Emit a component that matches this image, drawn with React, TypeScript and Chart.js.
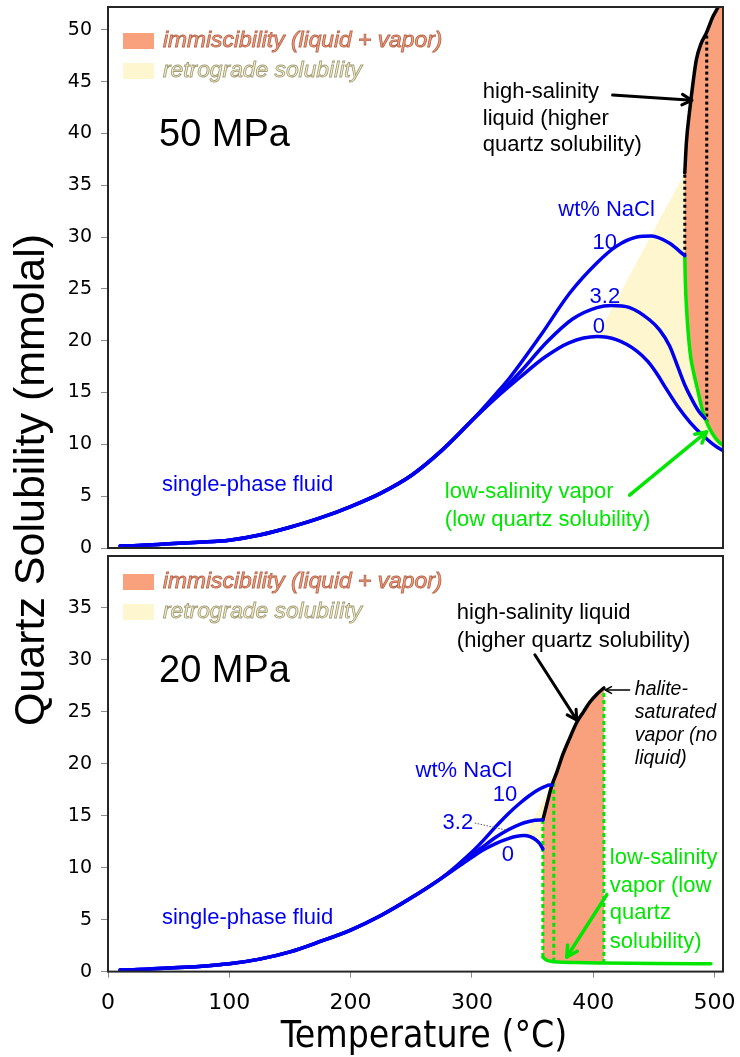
import React, { useEffect, useRef } from 'react';
import { Chart, registerables } from 'chart.js';

Chart.register(...registerables);

// ---------------- 50 MPa panel ----------------
// low-temperature branch shared by all salinities
const t50Shared = [10, 25, 50, 75, 100, 125, 150, 175, 200, 225, 250, 275, 300];
const s50Shared = [0.2, 0.25, 0.4, 0.55, 0.75, 1.25, 2.0, 2.9, 4.0, 5.3, 7.0, 9.4, 12.3];
// 0 wt% NaCl
const t50Nacl0 = [320, 340, 360, 380, 403, 419, 436, 445, 452, 460, 470, 480, 490, 500, 507];
const s50Nacl0 = [14.5, 16.5, 18.4, 19.8, 20.4, 20.1, 19.0, 18.0, 16.9, 15.4, 13.6, 12.1, 10.9, 9.9, 9.4];
// 3.2 wt% NaCl
const t50Nacl3 = [320, 340, 362, 383, 403, 415, 430, 446.6, 455, 463, 470, 476, 482, 487, 492];
const s50Nacl3 = [14.6, 17.0, 19.9, 22.1, 23.2, 23.4, 23.2, 22.0, 21.0, 19.5, 17.4, 15.6, 14.2, 13.2, 12.5];
// 10 wt% NaCl
const t50Nacl10 = [320, 331, 356, 380.7, 403, 419, 436, 448, 463, 475.5];
const s50Nacl10 = [14.9, 16.4, 20.4, 24.6, 27.5, 29.1, 30.0, 30.1, 29.4, 28.2];
// high-salinity liquid branch
const t50Liquid = [475.5, 476.8, 479.6, 482.3, 485, 489, 493.3, 498.8, 503, 507];
const s50Liquid = [36.2, 39.1, 42.3, 44.9, 47.1, 48.7, 49.7, 51.3, 52.2, 53.2];
// low-salinity vapor branch
const t50Vapor = [475.5, 476, 477, 478.5, 480.5, 483, 486, 490, 494, 499, 503, 507];
const s50Vapor = [28.2, 25.5, 23.0, 20.5, 18.3, 16.8, 15.3, 13.3, 12.0, 10.9, 10.3, 9.9];
// dotted tie lines
const t50Tie = [475.5, 493.6];
const s50TieLow = [28.2, 12.1];
const s50TieHigh = [36.2, 49.6];

// ---------------- 20 MPa panel ----------------
const t20Shared = [10, 25, 50, 75, 100, 125, 150, 175, 200, 225, 250, 275];
const s20Shared = [0.15, 0.2, 0.35, 0.5, 0.75, 1.2, 1.9, 2.9, 4.0, 5.4, 7.1, 9.0];
const t20Nacl0 = [290, 300, 310, 320, 330, 336, 343, 348, 353, 356, 358.5];
const s20Nacl0 = [10.2, 11.0, 11.75, 12.35, 12.8, 13.0, 13.1, 12.98, 12.65, 12.3, 11.8];
const t20Nacl3 = [290, 300, 310, 320, 330, 340, 347, 352, 358.5];
const s20Nacl3 = [10.3, 11.2, 12.1, 12.95, 13.65, 14.2, 14.45, 14.57, 14.6];
const t20Nacl10 = [290, 300, 310, 320, 330, 340, 347, 354, 360, 364, 366];
const s20Nacl10 = [10.45, 11.5, 12.7, 14.0, 15.2, 16.25, 16.9, 17.45, 17.8, 17.95, 17.95];
const t20Liquid = [358.5, 362, 366, 370, 375, 380, 386.5, 392, 397, 403, 408.8];
const s20Liquid = [14.6, 16.2, 17.95, 19.2, 20.9, 22.3, 24.0, 25.0, 25.9, 26.7, 27.3];
const t20Vapor = [358.5, 361, 365, 372, 385, 408.8, 450, 497];
const s20Vapor = [1.4, 1.15, 1.0, 0.92, 0.87, 0.83, 0.79, 0.76];
const t20Tie = [358.5, 367.5, 408.8];
const s20TieLow = [1.4, 0.96, 0.83];
const s20TieHigh = [14.6, 18.4, 27.3];

// axis ranges and tick labels
const T_MAX = 507;
const tempTicks = [0, 100, 200, 300, 400, 500];
const S_MAX_50 = 52.2;
const S_MAX_20 = 40;
const solTicks50 = [0, 5, 10, 15, 20, 25, 30, 35, 40, 45, 50];
const solTicks20 = [0, 5, 10, 15, 20, 25, 30, 35];

const BLUE = '#0000ee';
const GREEN = '#00e600';
const BLACK = '#000000';
const SALMON = '#f9a07c';
const CREAM = '#fdf6cf';
const SANS = '"Liberation Sans", Arial, sans-serif';

type P = { x: number; y: number };
const pts = (t: number[], s: number[]): P[] => t.map((x, i) => ({ x, y: s[i] }));
const argMax = (a: number[]) => a.reduce((best, v, i) => (v > a[best] ? i : best), 0);

const curve = (data: P[], color: string, width = 3.5) => ({
  data,
  borderColor: color,
  borderWidth: width,
  pointRadius: 0,
  fill: false,
  cubicInterpolationMode: 'monotone',
  borderCapStyle: 'round',
  borderJoinStyle: 'round',
  order: 1,
});
const dotted = (t: number, lo: number, hi: number, color: string, dash: number[]) => ({
  data: [{ x: t, y: lo }, { x: t, y: hi }],
  borderColor: color,
  borderWidth: 3,
  borderDash: dash,
  pointRadius: 0,
  fill: false,
  tension: 0,
  order: 2,
});
const area = (data: P[], color: string) => ({
  data,
  borderWidth: 0,
  borderColor: 'rgba(0,0,0,0)',
  backgroundColor: color,
  fill: 'shape',
  pointRadius: 0,
  tension: 0,
  order: 3,
});

// ---- fill shapes built from the curves ----
const pk50 = argMax(s50Nacl0);
const retro50: P[] = [
  { x: t50Nacl0[pk50], y: s50Nacl0[pk50] },
  { x: t50Liquid[0], y: s50Liquid[0] },
  ...pts(t50Vapor, s50Vapor),
  ...pts(t50Nacl0, s50Nacl0).slice(pk50).reverse(),
];
const immis50: P[] = [...pts(t50Liquid, s50Liquid), ...pts(t50Vapor, s50Vapor).reverse()];

const pk20 = argMax(s20Nacl0);
const end10 = { x: t20Nacl10[t20Nacl10.length - 1], y: s20Nacl10[s20Nacl10.length - 1] };
const retro20: P[] = [
  { x: t20Nacl0[pk20], y: s20Nacl0[pk20] },
  end10,
  ...pts(t20Liquid, s20Liquid).filter((p) => p.x <= end10.x).reverse(),
  ...pts(t20Nacl0, s20Nacl0).slice(pk20).reverse(),
];
const liqEnd20 = t20Liquid[t20Liquid.length - 1];
const immis20: P[] = [
  ...pts(t20Liquid, s20Liquid),
  ...pts(t20Vapor, s20Vapor).filter((p) => p.x <= liqEnd20).reverse(),
];

// ---- annotation helpers ----
type Label = { T: number; S: number; text: string; color: string; font: string; align?: CanvasTextAlign };
type Arrow = { from: [number, number]; to: [number, number]; color: string; width: number; head: number };

function drawArrow(ctx: CanvasRenderingContext2D, x1: number, y1: number, x2: number, y2: number, color: string, width: number, head: number) {
  ctx.save();
  ctx.strokeStyle = color;
  ctx.lineWidth = width;
  ctx.lineCap = 'round';
  ctx.lineJoin = 'round';
  ctx.beginPath();
  ctx.moveTo(x1, y1);
  ctx.lineTo(x2, y2);
  ctx.stroke();
  const a = Math.atan2(y2 - y1, x2 - x1);
  ctx.beginPath();
  ctx.moveTo(x2 - head * Math.cos(a - 0.5), y2 - head * Math.sin(a - 0.5));
  ctx.lineTo(x2, y2);
  ctx.lineTo(x2 - head * Math.cos(a + 0.5), y2 - head * Math.sin(a + 0.5));
  ctx.stroke();
  ctx.restore();
}

function drawLegend(chart: any, dy: number, title: string, titleDy: number) {
  const { ctx, chartArea: a } = chart;
  const x0 = a.left;
  const y0 = a.top;
  ctx.save();
  ctx.textBaseline = 'middle';
  ctx.textAlign = 'left';
  const rows = [
    { fill: SALMON, text: 'immiscibility (liquid + vapor)', tf: '#f4a283', ts: '#b7674c', off: 0 },
    { fill: CREAM, text: 'retrograde solubility', tf: '#fbf3c8', ts: '#a39e7c', off: 30 },
  ];
  for (const r of rows) {
    const cy = y0 + dy + r.off;
    ctx.fillStyle = r.fill;
    ctx.fillRect(x0 + 15, cy - 8, 31, 16);
    ctx.font = `italic 22.8px ${SANS}`;
    ctx.fillStyle = r.tf;
    ctx.fillText(r.text, x0 + 55, cy);
    ctx.lineWidth = 0.9;
    ctx.strokeStyle = r.ts;
    ctx.strokeText(r.text, x0 + 55, cy);
  }
  ctx.font = `38px ${SANS}`;
  ctx.fillStyle = BLACK;
  ctx.fillText(title, x0 + 51, y0 + titleDy);
  ctx.restore();
}

function notesPlugin(id: string, labels: Label[], arrows: Arrow[], legendDy: number, title: string, titleDy: number, extra?: (chart: any) => void) {
  return {
    id,
    afterDatasetsDraw(chart: any) {
      const { ctx, scales } = chart;
      const px = (t: number) => scales.x.getPixelForValue(t);
      const py = (s: number) => scales.y.getPixelForValue(s);
      // frame
      const a = chart.chartArea;
      ctx.save();
      ctx.strokeStyle = '#262626';
      ctx.lineWidth = 2;
      ctx.strokeRect(a.left, a.top, a.right - a.left, a.bottom - a.top);
      ctx.restore();
      if (extra) extra(chart);
      for (const ar of arrows) {
        drawArrow(ctx, px(ar.from[0]), py(ar.from[1]), px(ar.to[0]), py(ar.to[1]), ar.color, ar.width, ar.head);
      }
      ctx.save();
      ctx.textBaseline = 'middle';
      for (const l of labels) {
        ctx.font = l.font;
        ctx.fillStyle = l.color;
        ctx.textAlign = l.align || 'left';
        ctx.fillText(l.text, px(l.T), py(l.S));
      }
      ctx.restore();
      drawLegend(chart, legendDy, title, titleDy);
    },
  };
}

const F22 = `22px ${SANS}`;
const FI = `italic 19.5px ${SANS}`;

const labels50: Label[] = [
  { T: 309, S: 44.0, text: 'high-salinity', color: BLACK, font: F22 },
  { T: 309, S: 41.4, text: 'liquid (higher', color: BLACK, font: F22 },
  { T: 309, S: 38.9, text: 'quartz solubility)', color: BLACK, font: F22 },
  { T: 411, S: 32.6, text: 'wt% NaCl', color: BLUE, font: F22, align: 'center' },
  { T: 409.6, S: 29.4, text: '10', color: BLUE, font: F22, align: 'center' },
  { T: 409.6, S: 24.2, text: '3.2', color: BLUE, font: F22, align: 'center' },
  { T: 404.6, S: 21.3, text: '0', color: BLUE, font: F22, align: 'center' },
  { T: 44.5, S: 6.1, text: 'single-phase fluid', color: BLUE, font: F22 },
  { T: 277.7, S: 5.4, text: 'low-salinity vapor', color: GREEN, font: F22 },
  { T: 277.7, S: 2.7, text: '(low quartz solubility)', color: GREEN, font: F22 },
];
const arrows50: Arrow[] = [
  { from: [416, 43.7], to: [481.3, 43.2], color: BLACK, width: 3, head: 11 },
  { from: [430, 5.1], to: [493.4, 11.2], color: GREEN, width: 3.5, head: 12 },
];

const labels20: Label[] = [
  { T: 287.6, S: 34.5, text: 'high-salinity liquid', color: BLACK, font: F22 },
  { T: 287.6, S: 31.8, text: '(higher quartz solubility)', color: BLACK, font: F22 },
  { T: 434.3, S: 27.1, text: 'halite-', color: BLACK, font: FI },
  { T: 434.3, S: 24.9, text: 'saturated', color: BLACK, font: FI },
  { T: 434.3, S: 22.7, text: 'vapor (no', color: BLACK, font: FI },
  { T: 434.3, S: 20.5, text: 'liquid)', color: BLACK, font: FI },
  { T: 293.4, S: 19.3, text: 'wt% NaCl', color: BLUE, font: F22, align: 'center' },
  { T: 327.2, S: 17.0, text: '10', color: BLUE, font: F22, align: 'center' },
  { T: 288.4, S: 14.3, text: '3.2', color: BLUE, font: F22, align: 'center' },
  { T: 329.6, S: 11.2, text: '0', color: BLUE, font: F22, align: 'center' },
  { T: 44.5, S: 5.2, text: 'single-phase fluid', color: BLUE, font: F22 },
  { T: 413.7, S: 10.9, text: 'low-salinity', color: GREEN, font: F22 },
  { T: 413.7, S: 8.2, text: 'vapor (low', color: GREEN, font: F22 },
  { T: 413.7, S: 5.6, text: 'quartz', color: GREEN, font: F22 },
  { T: 413.7, S: 2.85, text: 'solubility)', color: GREEN, font: F22 },
];
const arrows20: Arrow[] = [
  { from: [351.9, 30.5], to: [386.5, 24.2], color: BLACK, width: 3, head: 11 },
  { from: [430, 27.1], to: [410, 27.1], color: BLACK, width: 1.5, head: 7 },
  { from: [411.2, 7.4], to: [378.2, 1.4], color: GREEN, width: 3.5, head: 12 },
];

// thin dotted leader from the "3.2" label to its curve
const leader20 = (chart: any) => {
  const { ctx, scales } = chart;
  ctx.save();
  ctx.strokeStyle = '#555';
  ctx.lineWidth = 1;
  ctx.setLineDash([1.5, 1.5]);
  ctx.beginPath();
  ctx.moveTo(scales.x.getPixelForValue(302.4), scales.y.getPixelForValue(14.3));
  ctx.lineTo(scales.x.getPixelForValue(328.8), scales.y.getPixelForValue(13.6));
  ctx.stroke();
  ctx.restore();
};

// axis titles drawn on the full-height canvas
const axisTitles = {
  id: 'axisTitles',
  afterDraw(chart: any) {
    const { ctx } = chart;
    ctx.save();
    ctx.fillStyle = BLACK;
    ctx.textAlign = 'center';
    ctx.textBaseline = 'alphabetic';
    ctx.font = '37px "DejaVu Sans Condensed", "DejaVu Sans", sans-serif';
    ctx.fillText('Temperature (°C)', 424, 1047);
    ctx.translate(44, 480);
    ctx.rotate(-Math.PI / 2);
    ctx.font = `43px ${SANS}`;
    ctx.fillText('Quartz Solubility (mmolal)', 0, 0);
    ctx.restore();
  },
};

const tickGrid = {
  display: true,
  drawOnChartArea: false,
  drawTicks: true,
  tickLength: 7,
  color: '#8a8a8a',
  lineWidth: 1,
};

const fixedTicks = (values: number[]) => (s: any) => {
  s.ticks = values.map((value) => ({ value }));
};

function baseOptions(yMax: number, yTicks: number[], padding: any, showX: boolean) {
  return {
    animation: false,
    responsive: false,
    maintainAspectRatio: false,
    events: [],
    layout: { padding },
    plugins: { legend: { display: false }, tooltip: { enabled: false }, title: { display: false } },
    scales: {
      x: {
        type: 'linear',
        min: 0,
        max: T_MAX,
        display: showX,
        border: { display: false },
        grid: { ...tickGrid, tickLength: 6 },
        ticks: {
          color: '#000',
          padding: 12,
          maxRotation: 0,
          autoSkip: false,
          font: { family: 'DejaVu Sans', size: 22 },
        },
        afterBuildTicks: fixedTicks(tempTicks),
        afterFit: (s: any) => {
          if (showX) s.height = 85.4;
          s.paddingLeft = 0;
          s.paddingRight = 0;
        },
      },
      y: {
        type: 'linear',
        min: 0,
        max: yMax,
        border: { display: false },
        grid: tickGrid,
        ticks: {
          color: '#000',
          padding: 9,
          autoSkip: false,
          font: { family: 'DejaVu Sans', size: 19 },
        },
        afterBuildTicks: fixedTicks(yTicks),
        afterFit: (s: any) => {
          s.width = 108;
          s.paddingTop = 0;
          s.paddingBottom = 0;
        },
      },
    },
  };
}

function config50(): any {
  return {
    type: 'line',
    data: {
      datasets: [
        curve([...pts(t50Shared, s50Shared), ...pts(t50Nacl0, s50Nacl0)], BLUE),
        curve([...pts(t50Shared, s50Shared), ...pts(t50Nacl3, s50Nacl3)], BLUE),
        curve([...pts(t50Shared, s50Shared), ...pts(t50Nacl10, s50Nacl10)], BLUE),
        curve(pts(t50Liquid, s50Liquid), BLACK),
        curve(pts(t50Vapor, s50Vapor), GREEN),
        ...t50Tie.map((t, i) => dotted(t, s50TieLow[i], s50TieHigh[i], BLACK, [3, 3])),
        area(immis50, SALMON),
        area(retro50, CREAM),
      ],
    },
    options: baseOptions(S_MAX_50, solTicks50, { top: 7, right: 17, bottom: 8, left: 0 }, false),
    plugins: [notesPlugin('notes50', labels50, arrows50, 34, '50 MPa', 129)],
  };
}

function config20(): any {
  return {
    type: 'line',
    data: {
      datasets: [
        curve([...pts(t20Shared, s20Shared), ...pts(t20Nacl0, s20Nacl0)], BLUE),
        curve([...pts(t20Shared, s20Shared), ...pts(t20Nacl3, s20Nacl3)], BLUE),
        curve([...pts(t20Shared, s20Shared), ...pts(t20Nacl10, s20Nacl10)], BLUE),
        curve(pts(t20Liquid, s20Liquid), BLACK),
        curve(pts(t20Vapor, s20Vapor), GREEN),
        ...t20Tie.map((t, i) => dotted(t, s20TieLow[i], s20TieHigh[i], GREEN, [4, 3])),
        area(immis20, SALMON),
        area(retro20, CREAM),
      ],
    },
    options: baseOptions(S_MAX_20, solTicks20, { top: 556, right: 17, bottom: 0, left: 0 }, true),
    plugins: [notesPlugin('notes20', labels20, arrows20, 26, '20 MPa', 116, leader20), axisTitles],
  };
}

export default function App() {
  const topRef = useRef<HTMLCanvasElement>(null);
  const bottomRef = useRef<HTMLCanvasElement>(null);

  useEffect(() => {
    const bottom = new Chart(bottomRef.current as HTMLCanvasElement, config20());
    const top = new Chart(topRef.current as HTMLCanvasElement, config50());
    return () => {
      top.destroy();
      bottom.destroy();
    };
  }, []);

  return (
    <div style={{ position: 'absolute', left: 0, top: 0, width: 740, height: 1057, background: '#fff' }}>
      <canvas ref={bottomRef} width={740} height={1057} style={{ position: 'absolute', left: 0, top: 0 }} />
      <canvas ref={topRef} width={740} height={556} style={{ position: 'absolute', left: 0, top: 0 }} />
    </div>
  );
}
